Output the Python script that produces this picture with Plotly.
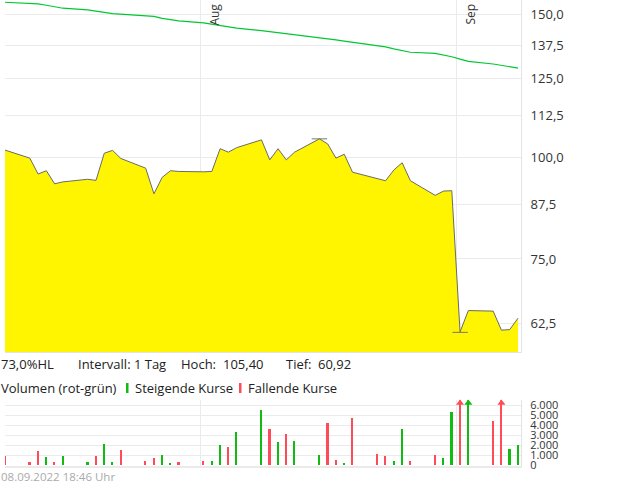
import plotly.graph_objects as go

# ---------------- data ----------------
dates = ["2022-07-08", "2022-07-11", "2022-07-12", "2022-07-13", "2022-07-14", "2022-07-15",
         "2022-07-18", "2022-07-19", "2022-07-20", "2022-07-21", "2022-07-22",
         "2022-07-25", "2022-07-26", "2022-07-27", "2022-07-28", "2022-07-29",
         "2022-08-01", "2022-08-02", "2022-08-03", "2022-08-04", "2022-08-05",
         "2022-08-08", "2022-08-09", "2022-08-10", "2022-08-11", "2022-08-12",
         "2022-08-15", "2022-08-16", "2022-08-17", "2022-08-18", "2022-08-19",
         "2022-08-22", "2022-08-23", "2022-08-24", "2022-08-25", "2022-08-26",
         "2022-08-29", "2022-08-30", "2022-08-31", "2022-09-01", "2022-09-02",
         "2022-09-05", "2022-09-06", "2022-09-07", "2022-09-08"]

close = [102.1, 99.8, 95.4, 96.3, 92.8, 93.3,
         94.0, 93.7, 101.2, 102.0, 99.7,
         97.0, 90.2, 94.5, 96.3, 96.1,
         96.0, 96.1, 102.5, 101.5, 102.8,
         105.1, 99.3, 102.5, 99.3, 101.5,
         105.4, 103.9, 99.8, 100.9, 95.9,
         94.3, 93.6, 96.5, 98.5, 93.6,
         89.8, 90.9, 91.0, 61.0, 64.8,
         64.7, 61.3, 61.4, 63.4]

avg_line = [155.2, 154.8, 154.5, 153.9, 153.3, 152.6,
            151.9, 151.5, 150.8, 150.3, 150.0,
            149.4, 149.1, 148.3, 147.7, 147.2,
            146.4, 145.9, 145.2, 144.6, 144.2,
            143.2, 142.8, 142.4, 142.0, 141.6,
            140.5, 140.0, 139.5, 139.0, 138.5,
            137.3, 136.8, 136.0, 135.3, 134.7,
            134.3, 133.7, 133.0, 132.1, 131.3,
            130.3, 129.8, 129.3, 128.8]

volume = [880, 350, 1450, 780, 350, 950,
          350, 950, 2150, 350, 1550,
          450, 750, 1050, 250, 350,
          450, 450, 2050, 1780, 3350,
          5550, 3650, 2350, 3150, 2450,
          1050, 4250, 550, 250, 4750,
          1150, 950, 450, 3650, 450,
          1050, 750, 5350, 9500, 7800,
          4450, 11000, 1650, 2050]

direction = ["r", "r", "r", "g", "r", "g",
             "g", "r", "g", "g", "r",
             "r", "r", "g", "g", "r",
             "r", "g", "g", "r", "g",
             "g", "r", "g", "r", "g",
             "g", "r", "r", "g", "r",
             "r", "r", "g", "g", "r",
             "r", "g", "g", "r", "g",
             "r", "r", "g", "g"]

hi_date, hi_val = "2022-08-15", 105.40
lo_date, lo_val = "2022-09-01", 60.92
stamp = "2022-09-08 18:46"

price_ticks = [62.5, 75.0, 87.5, 100.0, 112.5, 125.0, 137.5, 150.0]
vol_ticks = [0, 1000, 2000, 3000, 4000, 5000, 6000]
vol_cap = 6000
month_marks = ["2022-08-01", "2022-09-01"]
month_labels = ["Aug", "Sep"]

# ---------------- styling ----------------
W, H = 620, 483
FONT = "Open Sans"
GREEN = "#11bb11"
RED = "#ff4b57"
GRID = "#ebebeb"
col_map = {"g": GREEN, "r": RED}

xs = [d + " 10:00" for d in dates]
xs_hi = hi_date + " 10:00"
xs_lo = lo_date + " 10:00"
bar_colors = [col_map[c] for c in direction]

fig = go.Figure()

# price area
fig.add_trace(go.Scatter(x=xs, y=close, mode="lines", fill="tozeroy",
                         fillcolor="#fff500", line=dict(color="#6a6a6a", width=1),
                         xaxis="x", yaxis="y", hoverinfo="skip"))
# moving average
fig.add_trace(go.Scatter(x=xs, y=avg_line, mode="lines",
                         line=dict(color="#00c832", width=1.2),
                         xaxis="x", yaxis="y", hoverinfo="skip"))
# high / low marks
fig.add_trace(go.Scatter(x=[xs_hi, xs_lo], y=[hi_val, lo_val], mode="markers",
                         marker=dict(symbol="line-ew", size=11,
                                     line=dict(color="#777777", width=1)),
                         xaxis="x", yaxis="y", hoverinfo="skip"))

# volume
fig.add_trace(go.Bar(x=xs, y=volume, marker=dict(color=bar_colors, line=dict(width=0)),
                     width=0.2 * 86400000, xaxis="x2", yaxis="y2", hoverinfo="skip"))
# arrows for clipped volume
over_x = [x for x, v in zip(xs, volume) if v > vol_cap]
over_c = [c for c, v in zip(bar_colors, volume) if v > vol_cap]
fig.add_trace(go.Scatter(x=over_x, y=[vol_cap * 1.038] * len(over_x), mode="markers",
                         marker=dict(symbol="triangle-up", size=7, color=over_c),
                         cliponaxis=False, xaxis="x2", yaxis="y2", hoverinfo="skip"))

xdom = [5 / W, 521 / W]
xrange = [xs[0], stamp]

fig.update_layout(
    width=W, height=H,
    margin=dict(l=0, r=0, t=0, b=0, pad=0),
    paper_bgcolor="white", plot_bgcolor="white",
    showlegend=False,
    separators=",.",
    font=dict(family=FONT, size=13, color="#333333"),
    bargap=0,
    xaxis=dict(domain=xdom, type="date", range=xrange, tickvals=month_marks,
               showticklabels=False, showgrid=True, gridcolor=GRID, gridwidth=1,
               showline=True, linecolor="#e3e3e3", linewidth=1, zeroline=False,
               automargin=False, anchor="y"),
    yaxis=dict(domain=[1 - 352 / H, 1], type="log", range=[1.76059, 2.19367],
               side="right", tickvals=price_ticks, tickformat=".1f",
               showgrid=True, gridcolor=GRID, gridwidth=1,
               showline=True, linecolor="#e3e3e3", linewidth=1,
               ticks="", ticklabelstandoff=6, automargin=False,
               tickfont=dict(family=FONT, size=13, color="#333333"),
               zeroline=False, anchor="x"),
    xaxis2=dict(domain=xdom, type="date", matches="x", tickvals=month_marks,
                showticklabels=False, showgrid=True, gridcolor=GRID, gridwidth=1,
                showline=True, linecolor="#eaeaea", linewidth=2, zeroline=False,
                automargin=False, anchor="y2"),
    yaxis2=dict(domain=[1 - 465.5 / H, 1 - 400.3 / H], range=[0, 6500],
                side="right", tickvals=vol_ticks, tickformat=",d",
                showgrid=True, gridcolor=GRID, gridwidth=1,
                showline=True, linecolor="#e3e3e3", linewidth=1,
                ticks="", ticklabelstandoff=6, automargin=False,
                tickfont=dict(family=FONT, size=11, color="#333333"),
                zeroline=False, anchor="x2"),
)

ann = []
for d, lab in zip(month_marks, month_labels):
    ann.append(dict(x=d, xref="x", y=1, yref="paper", text=lab, showarrow=False,
                    textangle=-90, xanchor="left", yanchor="top", xshift=3, yshift=-2,
                    font=dict(family=FONT, size=12, color="#333333")))


def label(px, py, text, size=13, color="#222222"):
    ann.append(dict(x=px / W, y=1 - py / H, xref="paper", yref="paper", text=text,
                    showarrow=False, xanchor="left", yanchor="middle",
                    font=dict(family=FONT, size=size, color=color)))


label(-1, 363.5, "73,0%HL")
label(76, 363.5, "Intervall: 1 Tag")
label(179.5, 363.5, "Hoch:")
label(221, 363.5, "105,40")
label(284, 363.5, "Tief:")
label(315.5, 363.5, "60,92")
label(-1, 388, "Volumen (rot-grün)")
label(133, 388, "Steigende Kurse")
label(246, 388, "Fallende Kurse")
label(-1, 476.5, "08.09.2022 18:46 Uhr", size=11.5, color="#aaaaaa")

fig.update_layout(annotations=ann)

fig.add_shape(type="rect", xref="paper", yref="paper",
              x0=126 / W, x1=128.5 / W, y0=1 - 393 / H, y1=1 - 383 / H,
              fillcolor=GREEN, line=dict(width=0))
fig.add_shape(type="rect", xref="paper", yref="paper",
              x0=239 / W, x1=241.5 / W, y0=1 - 393 / H, y1=1 - 383 / H,
              fillcolor=RED, line=dict(width=0))

fig.write_html("out.html", config={"displayModeBar": False},
               post_script="document.body.style.margin='0';document.body.style.padding='0';")
